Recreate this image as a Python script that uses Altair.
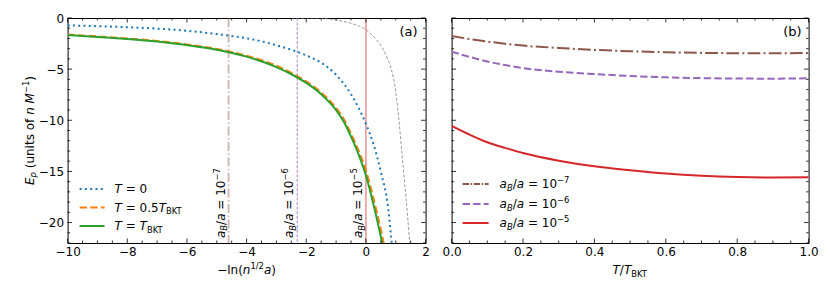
import altair as alt
import pandas as pd

# ---------------- panel (a): E_p vs -ln(n^{1/2} a) ----------------
x_T0 = [-10, -9, -8, -7, -6, -5, -4, -3, -2, -1.5, -1, -0.5, 0, 0.25, 0.5, 0.75, 0.9]
E_T0 = [-0.72, -0.8, -0.9, -1.04, -1.25, -1.57, -1.98, -2.66, -3.66, -4.37, -5.55, -7.45, -10.35, -12.3, -15.05, -18.7, -23.2]

x_Thalf = [-10, -9, -8, -7, -6, -5, -4, -3, -2.5, -2, -1.5, -1, -0.75, -0.5, -0.25, 0, 0.25, 0.5, 0.65]
E_Thalf = [-1.62, -1.8, -2.0, -2.24, -2.58, -3.02, -3.68, -4.67, -5.37, -6.2, -7.28, -8.8, -9.85, -11.3, -12.95, -14.9, -17.6, -20.7, -22.8]

x_TBKT = [-10, -9, -8, -7, -6, -5, -4, -3, -2.5, -2, -1.5, -1, -0.75, -0.5, -0.25, 0, 0.25, 0.5, 0.6]
E_TBKT = [-1.67, -1.85, -2.05, -2.3, -2.65, -3.1, -3.78, -4.8, -5.5, -6.35, -7.45, -9.0, -10.1, -11.6, -13.3, -15.4, -18.2, -21.4, -22.8]

x_ref = [-2.5, -2.0, -1.5, -1.0, -0.5, 0, 0.25, 0.5, 0.7, 0.85, 1.0, 1.1, 1.2, 1.3, 1.4, 1.45, 1.5]
E_ref = [0.0, -0.01, -0.03, -0.2, -0.52, -1.15, -1.8, -2.7, -3.8, -5.0, -7.2, -9.8, -13.0, -16.2, -19.5, -21.3, -23.0]

line_x = [-4.605, -2.303, 0.0]
line_exp = ["−7", "−6", "−5"]

# ---------------- panel (b): E_p vs T/T_BKT ----------------
t_ratio = [0, 0.05, 0.1, 0.15, 0.2, 0.3, 0.4, 0.5, 0.6, 0.7, 0.8, 0.9, 1.0]
E_ab7 = [-1.76, -2.05, -2.3, -2.52, -2.7, -2.93, -3.12, -3.25, -3.35, -3.41, -3.44, -3.44, -3.43]
E_ab6 = [-3.3, -3.8, -4.25, -4.6, -4.9, -5.25, -5.48, -5.67, -5.8, -5.88, -5.92, -5.93, -5.9]
E_ab5 = [-10.55, -11.4, -12.15, -12.7, -13.2, -13.95, -14.5, -14.88, -15.2, -15.42, -15.55, -15.6, -15.57]

# ticks
xa_major = [-10, -8, -6, -4, -2, 0, 2]
xa_minor = [v / 2 for v in range(-20, 5) if v % 4 != 0]
y_major = [0, -5, -10, -15, -20]
y_minor = [-v for v in range(1, 23) if v % 5 != 0]
xb_major = [0, 0.2, 0.4, 0.6, 0.8, 1.0]
xb_minor = [i / 20 for i in range(21) if i % 4 != 0]

# ---------------- style ----------------
FONT = "DejaVu Sans"
WA, WB, H = 358, 357, 225
C_BLUE, C_ORANGE, C_GREEN = "#1f77b4", "#ff7f0e", "#2ca02c"
C_RED, C_PURPLE, C_BROWN, C_GREY = "#d62728", "#9467bd", "#8c564b", "#7f7f7f"
MAJ, MIN = 4.5, 2.5

ADV = {" ": .318, "(": .390, ")": .390, "/": .337, ".": .318, "=": .838, "−": .838,
       "B": .686, "E": .632, "K": .656, "M": .863, "T": .611, "a": .613, "f": .352,
       "i": .278, "l": .278, "n": .634, "o": .612, "p": .635, "s": .521, "t": .392,
       "u": .634}
for d in "0123456789":
    ADV[d] = .636


def tw(s, size):
    return sum(ADV.get(ch, 0.6) for ch in s) * size


ONE = pd.DataFrame({"k": [0]})


def rich(segs, enc, size=12, angle=0, anchor="left", dy0=0.0, data=None):
    """Compose text from pieces (normal / subscript / superscript, italic or not)."""
    src = data if data is not None else ONE
    items = []
    for s, kind, ital in segs:
        fs = size if kind == "n" else size * 0.7
        sh = 0.0 if kind == "n" else (0.22 * size if kind == "sub" else -0.42 * size)
        items.append((s, fs, sh, ital))
    total = sum(tw(s, fs) for s, fs, sh, ital in items)
    cur = -total / 2 if anchor == "center" else 0.0
    out = []
    for s, fs, sh, ital in items:
        lead = len(s) - len(s.lstrip(" "))
        body = s.strip(" ")
        trail = len(s) - lead - len(body)
        cur += lead * ADV[" "] * fs
        if body:
            mk = dict(text=body, font=FONT, fontSize=fs, align="left", baseline="alphabetic",
                      dx=cur, dy=dy0 + sh, color="black")
            if ital:
                mk["fontStyle"] = "italic"
            if angle:
                mk["angle"] = angle
            out.append(alt.Chart(src).mark_text(**mk).encode(**enc))
        cur += tw(body, fs) + trail * ADV[" "] * fs
    return out


SX_A = alt.Scale(domain=[-10, 2], nice=False, zero=False)
SX_B = alt.Scale(domain=[0, 1], nice=False, zero=False)
SY = alt.Scale(domain=[-22, 0], nice=False, zero=False)
AXC = dict(title=None, ticks=False, domain=False, grid=False, labelFont=FONT,
           labelFontSize=12, labelColor="black")
AX_XA = alt.Axis(values=xa_major, format="d", labelPadding=3.5, labelFlush=False, **AXC)
AX_XB = alt.Axis(values=xb_major, format=".1f", labelPadding=3.5, labelFlush=False, **AXC)
AX_Y = alt.Axis(values=y_major, format="d", labelPadding=4, **AXC)


def XA(f):
    return alt.X(f, type="quantitative", scale=SX_A, axis=AX_XA)


def XB(f):
    return alt.X(f, type="quantitative", scale=SX_B, axis=AX_XB)


def YA(f):
    return alt.Y(f, type="quantitative", scale=SY, axis=AX_Y)


def YB(f):
    return alt.Y(f, type="quantitative", scale=SY, axis=None)


def curve(xs, ys, X, Y, color, dash=None, width=2.0):
    df = pd.DataFrame({"x": xs, "y": ys})
    kw = dict(color=color, strokeWidth=width, clip=True, interpolate="monotone")
    if dash:
        kw["strokeDash"] = dash
    return alt.Chart(df).mark_line(**kw).encode(x=X("x"), y=Y("y"))


def tick_layers(xmaj, xmin, X, Y, W):
    out = []
    for vals, ln in ((xmaj, MAJ), (xmin, MIN)):
        df = pd.DataFrame({"v": vals})
        out.append(alt.Chart(df).mark_rule(color="black", strokeWidth=0.8).encode(
            x=X("v"), y=alt.value(H), y2=alt.value(H - ln)))
        out.append(alt.Chart(df).mark_rule(color="black", strokeWidth=0.8).encode(
            x=X("v"), y=alt.value(0), y2=alt.value(ln)))
    for vals, ln in ((y_major, MAJ), (y_minor, MIN)):
        df = pd.DataFrame({"v": vals})
        out.append(alt.Chart(df).mark_rule(color="black", strokeWidth=0.8).encode(
            y=Y("v"), x=alt.value(0), x2=alt.value(ln)))
        out.append(alt.Chart(df).mark_rule(color="black", strokeWidth=0.8).encode(
            y=Y("v"), x=alt.value(W), x2=alt.value(W - ln)))
    return out


def legend_line(x1, x2, y, color, dash=None):
    kw = dict(color=color, strokeWidth=2)
    if dash:
        kw["strokeDash"] = dash
    return alt.Chart(ONE).mark_rule(**kw).encode(x=alt.value(x1), x2=alt.value(x2), y=alt.value(y))


# ---------------- panel (a) ----------------
A = []
vl_styles = [(C_BROWN, [9, 2.5, 1.5, 2.5], 1.8, 0.45), (C_PURPLE, [3, 1.6], 0.8, 1.0),
             (C_RED, None, 1.4, 0.55)]
for xv, (col, dash, w, op) in zip(line_x, vl_styles):
    kw = dict(color=col, strokeWidth=w, opacity=op)
    if dash:
        kw["strokeDash"] = dash
    A.append(alt.Chart(pd.DataFrame({"x": [xv]})).mark_rule(**kw).encode(
        x=XA("x"), y=alt.value(0), y2=alt.value(H)))
A.append(curve(x_ref, E_ref, XA, YA, C_GREY, dash=[3, 1.8], width=0.8))
A.append(curve(x_T0, E_T0, XA, YA, C_BLUE, dash=[2, 3.3]))
A.append(curve(x_Thalf, E_Thalf, XA, YA, C_ORANGE, dash=[7.4, 3.2]))
A.append(curve(x_TBKT, E_TBKT, XA, YA, C_GREEN))
A += tick_layers(xa_major, xa_minor, XA, YA, WA)
for xv, ex in zip(line_x, line_exp):
    A += rich([("a", "n", True), ("B", "sub", True), ("/", "n", False), ("a", "n", True),
               (" = 10", "n", False), (ex, "sup", False)],
              dict(x=XA("x"), y=alt.value(220)), angle=270, dy0=-4,
              data=pd.DataFrame({"x": [xv]}))
# legend (a)
rows_a = [171, 189.5, 208]
A.append(legend_line(12, 37, rows_a[0], C_BLUE, [2, 3.3]))
A.append(legend_line(12, 37, rows_a[1], C_ORANGE, [7.4, 3.2]))
A.append(legend_line(12, 37, rows_a[2], C_GREEN))
A += rich([("T", "n", True), (" = 0", "n", False)],
          dict(x=alt.value(47), y=alt.value(rows_a[0] + 4.2)))
A += rich([("T", "n", True), (" = 0.5", "n", False), ("T", "n", True), ("BKT", "sub", False)],
          dict(x=alt.value(47), y=alt.value(rows_a[1] + 4.2)))
A += rich([("T", "n", True), (" = ", "n", False), ("T", "n", True), ("BKT", "sub", False)],
          dict(x=alt.value(47), y=alt.value(rows_a[2] + 4.2)))
# titles
A += rich([("E", "n", True), ("p", "sub", True), (" (units of ", "n", False), ("n", "n", True),
           (" ", "n", False), ("M", "n", True), ("−1", "sup", False), (")", "n", False)],
          dict(x=alt.value(-34), y=alt.value(H / 2)), angle=270, anchor="center")
A += rich([("−ln(", "n", False), ("n", "n", True), ("1/2", "sup", False), ("a", "n", True),
           (")", "n", False)],
          dict(x=alt.value(WA / 2), y=alt.value(256)), anchor="center")
A.append(alt.Chart(ONE).mark_text(text="(a)", font=FONT, fontSize=13, align="right",
                                  baseline="alphabetic", color="black").encode(
    x=alt.value(350), y=alt.value(18)))

panel_a = alt.layer(*A).properties(width=WA, height=H)

# ---------------- panel (b) ----------------
B = []
B.append(curve(t_ratio, E_ab7, XB, YB, C_BROWN, dash=[12.8, 3.2, 2, 3.2]))
B.append(curve(t_ratio, E_ab6, XB, YB, C_PURPLE, dash=[7.4, 3.2]))
B.append(curve(t_ratio, E_ab5, XB, YB, C_RED))
B += tick_layers(xb_major, xb_minor, XB, YB, WB)
rows_b = [166, 186, 205]
B.append(legend_line(11, 37, rows_b[0], C_BROWN, [6.4, 1.6, 1.5, 1.6]))
B.append(legend_line(11, 37, rows_b[1], C_PURPLE, [7.4, 3.2]))
B.append(legend_line(11, 37, rows_b[2], C_RED))
for r, ex in zip(rows_b, line_exp):
    B += rich([("a", "n", True), ("B", "sub", True), ("/", "n", False), ("a", "n", True),
               (" = 10", "n", False), (ex, "sup", False)],
              dict(x=alt.value(48), y=alt.value(r + 4.0)))
B += rich([("T", "n", True), ("/", "n", False), ("T", "n", True), ("BKT", "sub", False)],
          dict(x=alt.value(WB / 2), y=alt.value(256)), anchor="center")
B.append(alt.Chart(ONE).mark_text(text="(b)", font=FONT, fontSize=13, align="right",
                                  baseline="alphabetic", color="black").encode(
    x=alt.value(350), y=alt.value(17.5)))

panel_b = alt.layer(*B).properties(width=WB, height=H)

chart = alt.hconcat(panel_a, panel_b, spacing=26, bounds="flush").properties(
    padding={"left": 12.6, "top": 3, "right": 0, "bottom": 0}
).configure_view(stroke="black", strokeWidth=1)

chart.save("out.html", embed_options={"renderer": "svg", "actions": False})
